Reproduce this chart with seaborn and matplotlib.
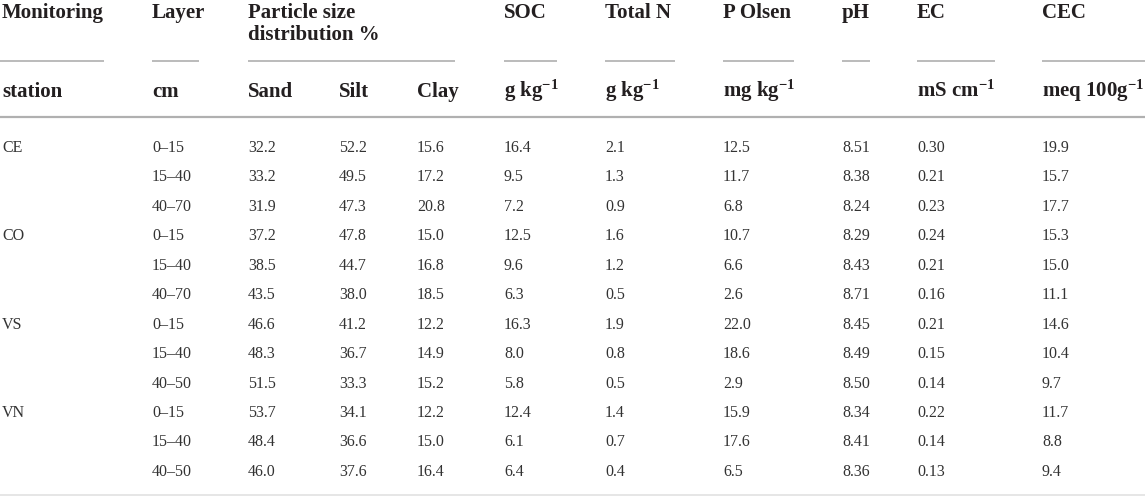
import matplotlib
matplotlib.use("Agg")
import matplotlib.pyplot as plt
import seaborn as sns

sns.set_theme(style="white")
plt.rcParams['font.family'] = ['Liberation Serif', 'DejaVu Serif']
plt.rcParams['mathtext.fontset'] = 'custom'
plt.rcParams['mathtext.rm'] = 'Liberation Serif'
plt.rcParams['mathtext.bf'] = 'Liberation Serif:bold'
plt.rcParams['mathtext.it'] = 'Liberation Serif:italic'

# ---- data ----
stations = ["CE", "", "", "CO", "", "", "VS", "", "", "VN", "", ""]
layers = ["0–15", "15–40", "40–70", "0–15", "15–40", "40–70",
          "0–15", "15–40", "40–50", "0–15", "15–40", "40–50"]
sand = ["32.2", "33.2", "31.9", "37.2", "38.5", "43.5", "46.6", "48.3", "51.5", "53.7", "48.4", "46.0"]
silt = ["52.2", "49.5", "47.3", "47.8", "44.7", "38.0", "41.2", "36.7", "33.3", "34.1", "36.6", "37.6"]
clay = ["15.6", "17.2", "20.8", "15.0", "16.8", "18.5", "12.2", "14.9", "15.2", "12.2", "15.0", "16.4"]
soc = ["16.4", "9.5", "7.2", "12.5", "9.6", "6.3", "16.3", "8.0", "5.8", "12.4", "6.1", "6.4"]
total_n = ["2.1", "1.3", "0.9", "1.6", "1.2", "0.5", "1.9", "0.8", "0.5", "1.4", "0.7", "0.4"]
p_olsen = ["12.5", "11.7", "6.8", "10.7", "6.6", "2.6", "22.0", "18.6", "2.9", "15.9", "17.6", "6.5"]
ph = ["8.51", "8.38", "8.24", "8.29", "8.43", "8.71", "8.45", "8.49", "8.50", "8.34", "8.41", "8.36"]
ec = ["0.30", "0.21", "0.23", "0.24", "0.21", "0.16", "0.21", "0.15", "0.14", "0.22", "0.14", "0.13"]
cec = ["19.9", "15.7", "17.7", "15.3", "15.0", "11.1", "14.6", "10.4", "9.7", "11.7", "8.8", "9.4"]

header_top = ["Monitoring", "Layer", "Particle size\ndistribution %", None, None,
              "SOC", "Total N", "P Olsen", "pH", "EC", "CEC"]
header_units = ["station", "cm", "Sand", "Silt", "Clay",
                r"g kg$^{\mathbf{-1}}$", r"g kg$^{\mathbf{-1}}$", r"mg kg$^{\mathbf{-1}}$",
                "", r"mS cm$^{\mathbf{-1}}$", r"meq 100g$^{\mathbf{-1}}$"]

columns = [stations, layers, sand, silt, clay, soc, total_n, p_olsen, ph, ec, cec]

# ---- layout ----
W, H = 1145, 497
col_x = [2, 152, 248, 339, 417, 504, 605, 723, 842, 917, 1042]
underline_spans = [(0, 104), (152, 199), (248, 455), (504, 557), (605, 675),
                   (723, 794), (842, 870), (917, 995), (1042, 1145)]
row_y0, row_dy = 146, 29.45

fig = plt.figure(figsize=(W / 100, H / 100), dpi=100)
ax = fig.add_axes([0, 0, 1, 1])
ax.set_xlim(0, W)
ax.set_ylim(H, 0)
ax.axis("off")

hdr_color = "#231f20"
body_color = "#333333"

for x, t in zip(col_x, header_top):
    if t is None:
        continue
    ax.text(x, 3, t, ha="left", va="top", fontsize=15, fontweight="bold",
            color=hdr_color, linespacing=1.12)

for x, t in zip(col_x, header_units):
    if t:
        ax.text(x, 97, t, ha="left", va="baseline", fontsize=15, fontweight="bold",
                color=hdr_color)

for x0, x1 in underline_spans:
    ax.plot([x0, x1], [61, 61], color="#b5b5b5", lw=1.3, solid_capstyle="butt")

ax.plot([0, W], [117, 117], color="#b0b0b0", lw=1.6, solid_capstyle="butt")
ax.plot([0, W], [495, 495], color="#e2e2e2", lw=1.2, solid_capstyle="butt")

for x, col in zip(col_x, columns):
    for i, v in enumerate(col):
        if v:
            ax.text(x, row_y0 + i * row_dy, v, ha="left", va="center_baseline",
                    fontsize=11.5, color=body_color)

fig.savefig("out.png", dpi=100, facecolor="white")
